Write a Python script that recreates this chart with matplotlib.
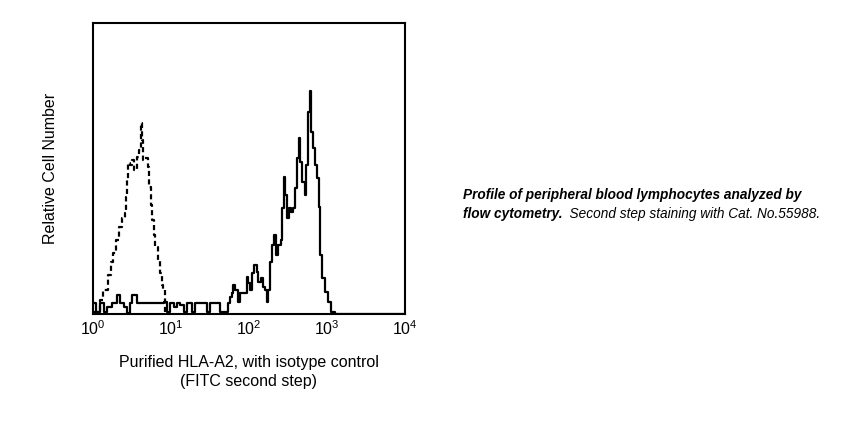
import numpy as np
import matplotlib
matplotlib.use("Agg")
import matplotlib.pyplot as plt

plt.rcParams['font.family'] = ['Liberation Sans', 'DejaVu Sans']
plt.rcParams['mathtext.default'] = 'regular'

# 荧光通道 (0-1023, 4个对数十进位) 与相对细胞数
hla_channel = [0, 10, 23, 36, 46, 62, 79, 89, 102, 112, 121, 128, 138, 144, 226, 233, 243,
               253, 266, 276, 286, 299, 309, 325, 335, 364, 374, 384, 407, 417, 433, 443,
               450, 456, 459, 466, 476, 482, 492, 505, 509, 515, 522, 528, 538, 542, 551,
               558, 564, 571, 574, 581, 587, 594, 601, 607, 617, 620, 627, 630, 637, 643,
               650, 656, 663, 670, 676, 679, 686, 696, 699, 706, 712, 715, 722, 728, 735,
               742, 745, 752, 761, 771, 781, 794, 1023]
hla_count = [3.8, 0.7, 3.8, 0.7, 2.4, 3.8, 6.5, 3.8, 2.4, 0.3, 3.8, 6.5, 6.5, 3.8, 3.8, 4.1,
             0.7, 3.8, 2.4, 3.8, 3.1, 0.7, 3.8, 0.7, 3.8, 3.8, 0.7, 3.8, 3.8, 0.7, 0.7, 3.8,
             5.8, 7.2, 10.0, 8.2, 4.1, 7.2, 7.2, 12.7, 10.7, 8.2, 14.1, 16.8, 14.4, 11.0,
             12.4, 9.3, 8.2, 4.1, 8.2, 17.9, 23.7, 27.1, 20.3, 23.7, 25.4, 36.4, 47.1, 40.9,
             33.0, 36.4, 35.1, 36.4, 43.3, 53.6, 60.5, 52.2, 45.4, 40.9, 51.2, 69.4, 76.6,
             62.5, 57.0, 51.2, 46.7, 36.8, 20.3, 12.4, 7.6, 4.1, 0.7, 0.0, 0.0]

iso_channel = [0, 23, 33, 49, 59, 66, 75, 85, 95, 105, 108, 112, 115, 121, 128, 135, 144,
               151, 158, 161, 164, 171, 181, 184, 190, 194, 200, 203, 213, 220, 226, 230, 236]
iso_count = [0.7, 4.8, 8.2, 13.4, 17.9, 21.0, 25.4, 29.9, 33.0, 34.7, 40.2, 46.0, 51.9,
             51.2, 52.9, 49.5, 54.0, 56.4, 65.6, 59.8, 52.9, 53.6, 50.5, 43.6, 37.5, 32.3,
             27.1, 23.0, 18.6, 14.1, 10.0, 8.2, 0.7]

tick_vals = [1, 10, 100, 1000, 10000]
tick_labels = ['$10^{0}$', '$10^{1}$', '$10^{2}$', '$10^{3}$', '$10^{4}$']

# 通道转换为荧光强度
hla_x = 10 ** (np.array(hla_channel) / 256.0)
iso_x = 10 ** (np.array(iso_channel) / 256.0)

fig = plt.figure(figsize=(8.57, 4.23), dpi=100)
ax = fig.add_axes([0.1085, 0.2577, 0.364, 0.688])

ax.plot(hla_x, hla_count, color='black', lw=1.6, drawstyle='steps-post')
ax.plot(iso_x, iso_count, color='black', lw=1.6, drawstyle='steps-post',
        linestyle=(0, (2.3, 1.5)))

ax.set_xscale('log')
ax.set_xlim(1, 10000)
ax.set_ylim(0, 100)
ax.set_xticks(tick_vals)
ax.set_xticklabels(tick_labels, fontsize=11.5)
ax.minorticks_off()
ax.tick_params(which='both', length=0, pad=4)
ax.set_yticks([])
for s in ax.spines.values():
    s.set_linewidth(1.5)

ax.set_xlabel('Purified HLA-A2, with isotype control\n(FITC second step)',
              fontsize=11.5, labelpad=12, linespacing=1.3)
ax.set_ylabel('Relative Cell Number', fontsize=11.5, labelpad=25)

# 图注
fig.text(463 / 857, 1 - 195 / 423, 'Profile of peripheral blood lymphocytes analyzed by',
         fontsize=9.8, fontweight='bold', fontstyle='italic', va='center', ha='left')
t2 = fig.text(463 / 857, 1 - 214 / 423, 'flow cytometry.',
              fontsize=9.8, fontweight='bold', fontstyle='italic', va='center', ha='left')
ax.annotate('  Second step staining with Cat. No.55988.', xy=(1, 0), xycoords=t2,
            fontsize=9.8, fontstyle='italic', va='bottom', ha='left')

fig.savefig('out.png', dpi=100)
